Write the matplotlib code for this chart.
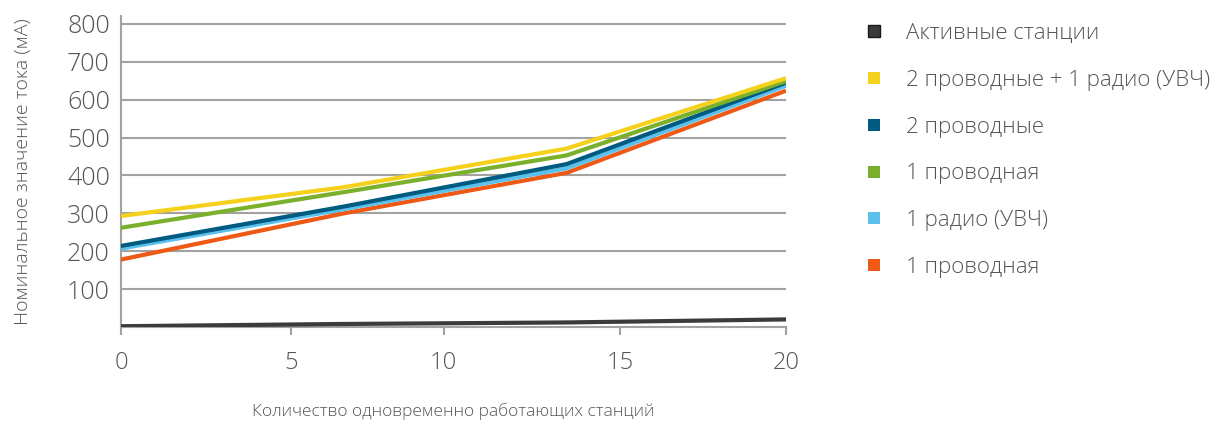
import matplotlib
matplotlib.use("Agg")
import matplotlib.pyplot as plt
from matplotlib.lines import Line2D

plt.rcParams['font.family'] = ['Open Sans', 'DejaVu Sans']

# data
stations = [0, 6.7, 13.4, 20]
series_names = ['Активные станции', '2 проводные + 1 радио (УВЧ)', '2 проводные',
                '1 проводная', '1 радио (УВЧ)', '1 проводная']
active = [2, 8, 12, 20]
wired2_radio1 = [293, 369, 471, 657]
wired2 = [214, 318, 430, 645]
wired1_a = [262, 356, 453, 649]
radio1 = [207, 311, 419, 637]
wired1_b = [178, 300, 407, 624]
colors = ['#3b3b3b', '#f5d11c', '#005b80', '#7bb02c', '#5bc1ec', '#ee5a16']
yticks = [100, 200, 300, 400, 500, 600, 700, 800]
xtick_pos = [0, 5.1, 9.7, 15, 20]
xtick_lab = ['0', '5', '10', '15', '20']

fig = plt.figure(figsize=(12.32, 4.21), dpi=100)
ax = fig.add_axes([0.0982, 0.2233, 0.5398, 0.7377])

gray = '#a4a1a1'
txt = '#555555'

for y in yticks:
    ax.axhline(y, color=gray, lw=1.5, zorder=1)

draw_order = [wired1_b, radio1, wired2, wired1_a, wired2_radio1, active]
draw_cols = [colors[5], colors[4], colors[2], colors[3], colors[1], colors[0]]
for d, c in zip(draw_order, draw_cols):
    ax.plot(stations, d, color=c, lw=3, solid_capstyle='butt', zorder=3)

ax.set_xlim(0, 20)
ax.set_ylim(0, 820)
ax.set_yticks(yticks)
ax.set_xticks(xtick_pos)
ax.set_xticklabels(xtick_lab)
for s in ['top', 'right']:
    ax.spines[s].set_visible(False)
ax.spines['left'].set_color(gray)
ax.spines['bottom'].set_color(gray)
ax.spines['left'].set_linewidth(1.5)
ax.spines['bottom'].set_linewidth(1.5)
ax.tick_params(axis='y', length=0, pad=8, labelsize=18, labelcolor=txt)
ax.tick_params(axis='x', length=6, width=1.5, color=gray, pad=11, labelsize=17, labelcolor=txt)
for lab in ax.get_xticklabels() + ax.get_yticklabels():
    lab.set_fontweight('light')

ax.set_ylabel('Номинальное значение тока (мА)', fontsize=14, color=txt, labelpad=25, fontweight='light')
ax.set_xlabel('Количество одновременно работающих станций', fontsize=12.5, color=txt, labelpad=20, fontweight='light')

handles = []
for i, (name, c) in enumerate(zip(series_names, colors)):
    ec = '#1a1a1a' if i == 0 else c
    handles.append(Line2D([], [], ls='none', marker='s', markersize=9,
                          markerfacecolor=c, markeredgecolor=ec, markeredgewidth=1 if i == 0 else 0,
                          label=name))
fig.legend(handles=handles, loc='upper left', bbox_to_anchor=(0.684, 0.993),
           frameon=False, labelspacing=1.16, handletextpad=0.95,
           handlelength=1.0, labelcolor=txt, prop={'weight': 'light', 'size': 16})

fig.savefig('out.png', dpi=100)
